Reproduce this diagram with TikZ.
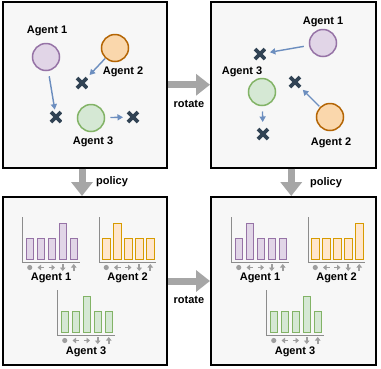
\documentclass[tikz,border=0pt]{standalone}
\usepackage{fontspec}
\setmainfont{Liberation Sans}
\usetikzlibrary{arrows.meta}
\definecolor{pfill}{HTML}{E1D5E7}
\definecolor{pdraw}{HTML}{9673A6}
\definecolor{ofill}{HTML}{FAD7AC}
\definecolor{odraw}{HTML}{B46504}
\definecolor{obfill}{HTML}{FFE6CC}
\definecolor{obdraw}{HTML}{D79B00}
\definecolor{gfill}{HTML}{D5E8D4}
\definecolor{gdraw}{HTML}{82B366}
\definecolor{xcol}{HTML}{314354}
\definecolor{arrowblue}{HTML}{6C8EBF}
\definecolor{biggray}{HTML}{A6A6A6}
\definecolor{boxbg}{HTML}{F7F7F7}
\definecolor{icongray}{HTML}{9E9E9E}
\definecolor{axisgray}{HTML}{8C8C8C}
\newcommand\barchart[5]{%
  \draw[axisline] (#1,#2-45) -- (#1,#2) -- (#1+57,#2);
  \foreach \i in {0,...,4}{%
    \pgfmathsetmacro\bartop{\i==#3 ? 39 : 24}
    \draw[fill=#4,draw=#5,line width=1pt] (#1+3.5+11*\i,#2-3) rectangle (#1+11+11*\i,#2-\bartop);
  }
  \fill[icongray] (#1+7.25,#2+5.5) circle (2.6pt);
  \draw[icon] (#1+21.5,#2+5.5) -- (#1+15,#2+5.5);
  \draw[icon] (#1+26,#2+5.5) -- (#1+32.5,#2+5.5);
  \draw[icon] (#1+40.25,#2+2) -- (#1+40.25,#2+9);
  \draw[icon] (#1+51.25,#2+9) -- (#1+51.25,#2+2);
}
\begin{document}
\begin{tikzpicture}[x=1pt,y=-1pt,
  font=\fontsize{11}{13}\selectfont\bfseries,
  box/.style={draw=black, line width=2pt, fill=boxbg, inner sep=0pt},
  agent/.style={circle, minimum size=27pt, inner sep=0pt, outer sep=0pt, line width=1.5pt},
  xmark/.style={circle, minimum size=15pt, inner sep=0pt, outer sep=0pt,
    path picture={\draw[xcol, line width=3.8pt]
      ([shift={(-5,-5)}]path picture bounding box.center) -- ([shift={(5,5)}]path picture bounding box.center)
      ([shift={(-5,5)}]path picture bounding box.center) -- ([shift={(5,-5)}]path picture bounding box.center);}},
  move/.style={draw=arrowblue, line width=1.4pt, -{Triangle[length=5.5pt,width=6pt]}},
  big/.style={draw=biggray, line width=7pt, -{Triangle[length=14pt,width=21pt]}},
  lbl/.style={inner sep=0pt},
  axisline/.style={draw=axisgray, line width=1pt},
  icon/.style={draw=icongray, line width=1.7pt, -{Triangle[length=3.5pt,width=5.5pt]}}
]
\useasboundingbox (0,0) rectangle (381,368);
% panels
\node[box, minimum width=164pt, minimum height=165.5pt] (tl) at (85,84.75) {};
\node[box, minimum width=164.5pt, minimum height=165.5pt] (tr) at (293.25,84.75) {};
\node[box, minimum width=164pt, minimum height=168pt] (bl) at (85,281) {};
\node[box, minimum width=164.5pt, minimum height=168pt] (br) at (293.25,281) {};
% big arrows
\draw[big] (tl.east) -- (tr.west);
\draw[big] (bl.east) -- (br.west);
\draw[big] ([xshift=-3pt]tl.south) -- ([xshift=-3pt]bl.north);
\draw[big] ([xshift=-2pt]tr.south) -- ([xshift=-2pt]br.north);
\node[lbl] (rot1) at (189,104) {rotate};
\node[lbl] (rot2) at (189,300) {rotate};
\node[lbl] (pol1) at (112,182) {policy};
\node[lbl] (pol2) at (326,183) {policy};
% top-left scene
\node[agent, fill=pfill, draw=pdraw] (a1) at (46,57) {};
\node[lbl] (la1) at (47,31) {Agent 1};
\node[agent, fill=ofill, draw=odraw] (a2) at (115,48) {};
\node[lbl] (la2) at (123,72) {Agent 2};
\node[agent, fill=gfill, draw=gdraw] (a3) at (91,118) {};
\node[lbl] (la3) at (93,142) {Agent 3};
\node[xmark] (x1) at (56,117) {};
\node[xmark] (x2) at (82,83) {};
\node[xmark] (x3) at (133,117) {};
\draw[move, shorten <=6pt] (a1) -- (x1);
\draw[move, shorten <=1pt, shorten >=3.5pt] (a2) -- (x2);
\draw[move, shorten <=6pt, shorten >=2.5pt] (a3) -- (x3);
% top-right scene
\node[agent, fill=pfill, draw=pdraw] (b1) at (323,43) {};
\node[lbl] (lb1) at (323,22) {Agent 1};
\node[agent, fill=gfill, draw=gdraw] (b3) at (262,92) {};
\node[lbl] (lb3) at (242,72) {Agent 3};
\node[agent, fill=ofill, draw=odraw] (b2) at (330,117) {};
\node[lbl] (lb2) at (331,143) {Agent 2};
\node[xmark] (y1) at (260,54) {};
\node[xmark] (y3) at (263,134) {};
\node[xmark] (y2) at (295,82) {};
\draw[move, shorten <=6pt, shorten >=2.5pt] (b1) -- (y1);
\draw[move, shorten <=6pt, shorten >=4.5pt] (b3) -- (y3);
\draw[move, shorten <=1.6pt, shorten >=3.5pt] (b2) -- (y2);
% bottom-left charts
\barchart{22.5}{262}{3}{pfill}{pdraw}
\barchart{99}{262}{1}{obfill}{obdraw}
\barchart{57.5}{335}{2}{gfill}{gdraw}
\node[lbl] (lc1) at (51,278) {Agent 1};
\node[lbl] (lc2) at (127.5,278) {Agent 2};
\node[lbl] (lc3) at (86,352) {Agent 3};
% bottom-right charts
\barchart{231.5}{262}{1}{pfill}{pdraw}
\barchart{308}{262}{4}{obfill}{obdraw}
\barchart{266.5}{335}{3}{gfill}{gdraw}
\node[lbl] (ld1) at (260,278) {Agent 1};
\node[lbl] (ld2) at (336.5,278) {Agent 2};
\node[lbl] (ld3) at (295,352) {Agent 3};
\end{tikzpicture}
\end{document}
